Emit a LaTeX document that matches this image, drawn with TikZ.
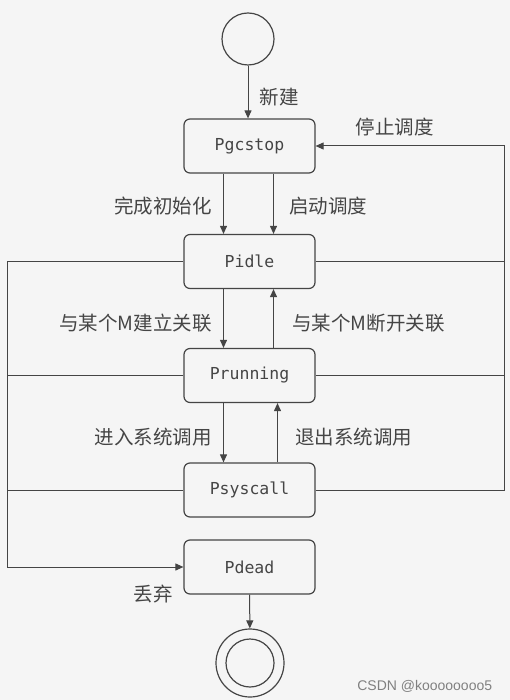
\documentclass[tikz,border=0pt]{standalone}
\usepackage{fontspec}
\usepackage{tikz}
\usetikzlibrary{arrows.meta}
\newfontfamily\cjk{Noto Sans CJK SC}
\newfontfamily\statefont{DejaVu Sans Mono}
\newfontfamily\markfont{Liberation Sans}
\definecolor{linegray}{rgb}{0.27,0.27,0.27}
\definecolor{paper}{rgb}{0.96,0.96,0.96}

\begin{document}
\begin{tikzpicture}[x=1pt, y=-1pt, >={Triangle[length=8pt,width=7pt]},
    line width=1pt, draw=linegray,
    state/.style={draw=linegray, rounded corners=6pt, line width=1.2pt,
        minimum width=131pt, minimum height=54pt, inner sep=0pt,
        font=\statefont\fontsize{16.5}{18}\selectfont, text=linegray},
    ring/.style={draw=linegray, circle, line width=1.2pt, inner sep=0pt},
    lbl/.style={font=\cjk\fontsize{19.5}{20}\selectfont, text=linegray}]
    % Page
    \useasboundingbox[fill=paper] (0,0) rectangle (510,700);

    % States
    \node[ring, minimum size=52pt] (start) at (248,39) {};
    \node[state] (stop) at (249.5,146) {Pgcstop};
    \node[state] (idle) at (249.5,261.5) {Pidle};
    \node[state] (running) at (249.5,375.5) {Prunning};
    \node[state] (syscall) at (249.5,490) {Psyscall};
    \node[state] (dead) at (249.5,567) {Pdead};
    \node[ring, minimum size=68pt] (end) at (250,663) {};
    \node[ring, minimum size=48pt] (endin) at (250,663) {};

    % Side rails
    \coordinate (ll) at (7,263);
    \coordinate (rr) at (504,263);

    % Vertical transitions
    \draw[->, linegray] (start) -- (start |- stop.north)
        node[lbl, midway, right=8pt, yshift=-5pt] {新建};
    \draw[->, linegray] ([xshift=-26pt]stop.south) -- ([xshift=-26pt]idle.north)
        node[lbl, midway, left=8pt, yshift=-2pt] {完成初始化};
    \draw[->, linegray] ([xshift=24pt]stop.south) -- ([xshift=24pt]idle.north)
        node[lbl, midway, right=12pt, yshift=-2pt] {启动调度};
    \draw[->, linegray] ([xshift=-26pt]idle.south) -- ([xshift=-26pt]running.north)
        node[lbl, midway, left=8pt, yshift=-4.5pt] {与某个M建立关联};
    \draw[->, linegray] ([xshift=24pt]running.north) -- ([xshift=24pt]idle.south)
        node[lbl, midway, right=15pt, yshift=-4.5pt] {与某个M断开关联};
    \draw[->, linegray] ([xshift=-26pt]running.south) -- ([xshift=-26pt]syscall.north)
        node[lbl, midway, left=8pt, yshift=-4.5pt] {进入系统调用};
    \draw[->, linegray] ([xshift=28pt]syscall.north) -- ([xshift=28pt]running.south)
        node[lbl, midway, right=14pt, yshift=-4.5pt] {退出系统调用};
    \draw[->, linegray] (dead) -- (end);

    % Right rail back to Pgcstop
    \draw[linegray] (idle.east) -- (idle.east -| rr);
    \draw[linegray] (running.east) -- (running.east -| rr);
    \draw[->, linegray] (syscall.east) -- (syscall.east -| rr) |- (stop.east)
        node[lbl, pos=0.79, above=6pt] {停止调度};

    % Left rail down to Pdead
    \draw[linegray] (running.west) -- (running.west -| ll);
    \draw[linegray] (syscall.west) -- (syscall.west -| ll);
    \draw[->, linegray] (idle.west) -- (idle.west -| ll) |- (dead.west)
        node[lbl, pos=0.915, below=14pt] {丢弃};

    % Watermark
    \node[font=\markfont\fontsize{14}{16}\selectfont, text=gray, anchor=east]
        (mark) at (496,686) {CSDN @koooooooo5};
\end{tikzpicture}
\end{document}
